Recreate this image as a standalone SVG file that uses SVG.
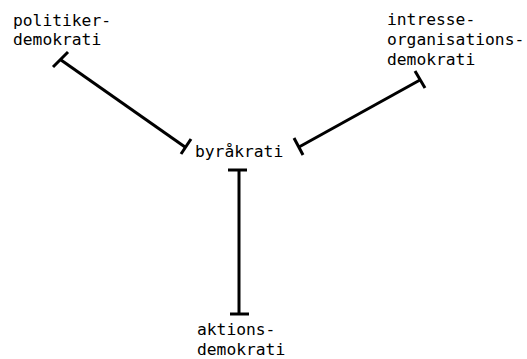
<svg xmlns="http://www.w3.org/2000/svg" width="527" height="359" viewBox="0 0 527 359">
<style>
text{font-family:"DejaVu Sans Mono","Liberation Mono",monospace;font-size:16.3px;fill:#000}
.c line{stroke:#000;stroke-width:3;stroke-linecap:butt}
</style>
<rect width="527" height="359" fill="#fff"/>
<g id="politikerdemokrati"><text x="13" y="26">politiker-</text><text x="13" y="45">demokrati</text></g>
<g id="intresseorganisationsdemokrati"><text x="387" y="25">intresse-</text><text x="387" y="45">organisations-</text><text x="387" y="65">demokrati</text></g>
<g id="byrakrati"><text x="195" y="157">byråkrati</text></g>
<g id="aktionsdemokrati"><text x="197" y="335">aktions-</text><text x="197" y="355">demokrati</text></g>
<g id="connectors" class="c">
<line x1="61" y1="60" x2="185" y2="147"/>
<line x1="53" y1="67" x2="68" y2="52"/>
<line x1="181" y1="154" x2="191" y2="139"/>
<line x1="420" y1="80" x2="299" y2="147"/>
<line x1="415" y1="71" x2="425" y2="88"/>
<line x1="294" y1="138" x2="303" y2="155"/>
<line x1="239" y1="170" x2="239" y2="314"/>
<line x1="228" y1="170" x2="247" y2="170"/>
<line x1="230" y1="314" x2="249" y2="314"/>
</g>
</svg>
